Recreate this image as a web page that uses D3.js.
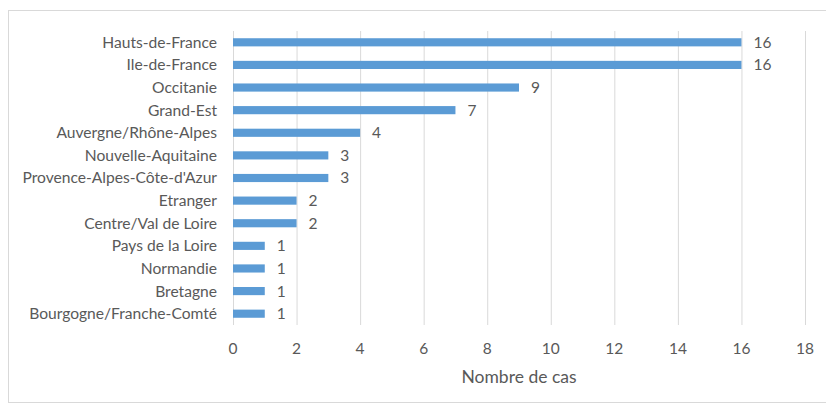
<!DOCTYPE html>
<html><head><meta charset="utf-8">
<script src="https://cdn.jsdelivr.net/npm/d3@7"></script>
<style>body{margin:0;background:#fff;}svg{display:block;}text{font-family:Lato,"Open Sans",sans-serif;fill:#595959;}</style>
</head><body>
<svg id="c" width="826" height="405"></svg>
<script>
const categories = ["Hauts-de-France","Ile-de-France","Occitanie","Grand-Est","Auvergne/Rhône-Alpes","Nouvelle-Aquitaine","Provence-Alpes-Côte-d'Azur","Etranger","Centre/Val de Loire","Pays de la Loire","Normandie","Bretagne","Bourgogne/Franche-Comté"];
const values = [16,16,9,7,4,3,3,2,2,1,1,1,1];
const xTicks = [0,2,4,6,8,10,12,14,16,18];
const xTitle = "Nombre de cas";

const svg = d3.select("#c");
svg.append("rect").attr("x",8.5).attr("y",10.5).attr("width",830).attr("height",392)
  .attr("fill","#fff").attr("stroke","#d9d9d9");
const x = d3.scaleLinear().domain([0,18]).range([233,805]);
const y = d3.scaleBand().domain(categories).range([31,325]).paddingInner(0.64).paddingOuter(0.32);

svg.append("g").selectAll("line").data(xTicks).join("line")
  .attr("x1",d=>x(d)+0.5).attr("x2",d=>x(d)+0.5).attr("y1",31).attr("y2",325)
  .attr("stroke","#d9d9d9").attr("stroke-width",1);

const data = categories.map((c,i)=>({c,v:values[i]}));
svg.append("g").selectAll("rect").data(data).join("rect")
  .attr("x",x(0)).attr("y",d=>y(d.c)).attr("width",d=>x(d.v)-x(0)).attr("height",y.bandwidth())
  .attr("fill","#5b9bd5");

svg.append("g").selectAll("text").data(data).join("text")
  .attr("x",d=>x(d.v)+12).attr("y",d=>y(d.c)+y.bandwidth()/2).attr("dy","0.35em")
  .attr("font-size",15.5).text(d=>d.v);

svg.append("g").selectAll("text").data(categories).join("text")
  .attr("x",217).attr("y",d=>y(d)+y.bandwidth()/2).attr("dy","0.35em")
  .attr("text-anchor","end").attr("font-size",15.6).text(d=>d);

svg.append("g").selectAll("text").data(xTicks).join("text")
  .attr("x",d=>x(d)).attr("y",349).attr("dy","0.35em").attr("text-anchor","middle")
  .attr("font-size",15.5).text(d=>d);

svg.append("text").attr("x",(x(0)+x(18))/2).attr("y",377).attr("dy","0.35em")
  .attr("text-anchor","middle").attr("font-size",17.5).text(xTitle);
</script>
</body></html>
